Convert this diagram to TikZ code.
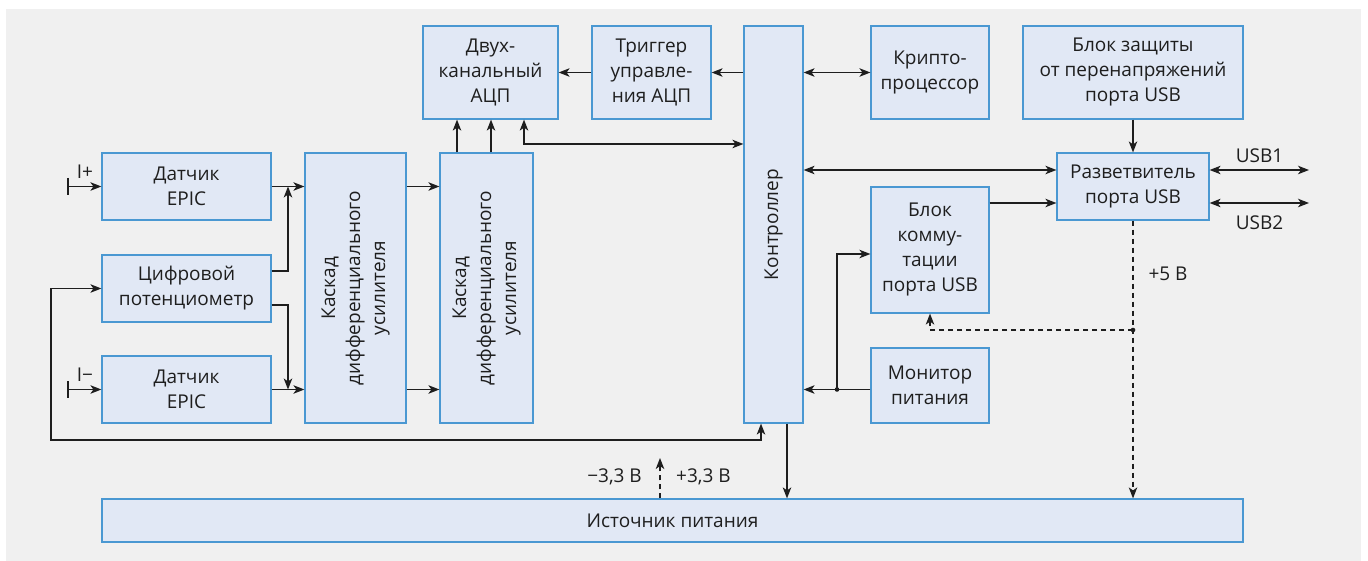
\documentclass[tikz,border=0pt]{standalone}
\usepackage{fontspec}
\setmainfont{Open Sans}
\usetikzlibrary{arrows.meta,calc}
\definecolor{bgc}{HTML}{F0F0F0}
\definecolor{boxfill}{HTML}{E1E8F5}
\definecolor{boxline}{HTML}{4A98D2}
\definecolor{ink}{HTML}{1E1E1E}
\begin{document}
\begin{tikzpicture}[x=1pt,y=-1pt,
  box/.style={draw=boxline, fill=boxfill, line width=1.2pt, inner sep=0pt, align=center, text=ink, font=\fontsize{19}{25}\selectfont},
  txt/.style={align=center, text=ink, inner sep=0pt, font=\fontsize{19}{25}\selectfont},
  conn/.style={draw=ink, line width=1.3pt},
  tip/.tip={Stealth[length=11pt,width=8.5pt,inset=3pt]},
  arr/.style={conn, -tip},
  arrboth/.style={conn, tip-tip},
  darr/.style={conn, dash pattern=on 5pt off 4pt, -tip},
  dotc/.style={fill=ink, draw=none},
]
\fill[white] (0,0) rectangle (1368,561);
\fill[bgc] (6,9) rectangle (1361,561);

% boxes
\node[box, minimum width=169pt, minimum height=67pt] (ds1) at (186.5,186.5) {Датчик\\EPIC};
\node[box, minimum width=169pt, minimum height=67pt] (pot) at (186.5,288.5) {Цифровой\\потенциометр};
\node[box, minimum width=169pt, minimum height=67pt] (ds2) at (186.5,389.5) {Датчик\\EPIC};
\node[box, minimum width=101pt, minimum height=270pt] (k1) at (355.5,288) {};
\node[txt, rotate=90] (k1t) at (k1) {Каскад\\дифференциального\\усилителя};
\node[box, minimum width=93pt, minimum height=270pt] (k2) at (486.5,288) {};
\node[txt, rotate=90] (k2t) at (k2) {Каскад\\дифференциального\\усилителя};
\node[box, minimum width=135pt, minimum height=93pt] (adc) at (490.5,72.5) {Двух-\\канальный\\АЦП};
\node[box, minimum width=119pt, minimum height=93pt] (trg) at (651.5,72.5) {Триггер\\управле-\\ния АЦП};
\node[box, minimum width=59pt, minimum height=397pt] (ctl) at (773.5,224.5) {};
\node[txt, rotate=90] (ctlt) at (ctl) {Контроллер};
\node[box, minimum width=118pt, minimum height=93pt] (cry) at (930,72.5) {Крипто-\\процессор};
\node[box, minimum width=220pt, minimum height=93pt] (prot) at (1133,72.5) {Блок защиты\\от перенапряжений\\порта USB};
\node[box, minimum width=152pt, minimum height=67pt] (hub) at (1133,186.5) {Разветвитель\\порта USB};
\node[box, minimum width=118pt, minimum height=126pt] (sw) at (930,250) {Блок\\комму-\\тации\\порта USB};
\node[box, minimum width=118pt, minimum height=75pt] (mon) at (930,385.5) {Монитор\\питания};
\node[box, minimum width=1141pt, minimum height=43pt] (psu) at (672.5,520.5) {Источник питания};

% inputs
\coordinate (ip) at (68,186.5);
\coordinate (im) at (68,389.5);
\draw[conn] ([yshift=8.5pt]ip) -- ([yshift=-8.5pt]ip);
\draw[conn] ([yshift=8.5pt]im) -- ([yshift=-8.5pt]im);
\draw[arr] (ip) -- (ds1.west);
\draw[arr] (im) -- (ds2.west);
\node[txt] (lip) at (85,172) {I+};
\node[txt] (lim) at (85,375) {I−};

% sensors to first stage
\coordinate (j1) at (288,186.5);
\coordinate (j2) at (288,389.5);
\draw[arr] (ds1.east) -- (ds1.east -| k1.west);
\draw[arr] (ds2.east) -- (ds2.east -| k1.west);
\draw[arr] ([yshift=17.5pt]pot.east) -| (j1);
\draw[arr] ([yshift=-16.5pt]pot.east) -| (j2);

% first to second stage
\draw[arr] (k1.east |- ds1.east) -- (k2.west |- ds1.east);
\draw[arr] (k1.east |- ds2.east) -- (k2.west |- ds2.east);

% second stage to ADC
\draw[arr] ([xshift=-29.5pt]k2.north) -- ([xshift=-29.5pt]k2.north |- adc.south);
\draw[arr] ([xshift=4.5pt]k2.north) -- ([xshift=4.5pt]k2.north |- adc.south);
\coordinate (ca) at ([yshift=80.5pt]ctl.west);
\draw[arrboth] ([xshift=33.5pt]adc.south) |- (ca);

% controller, trigger, ADC
\draw[arr] (ctl.west |- trg.east) -- (trg.east);
\draw[arr] (trg.west) -- (adc.east);
\draw[arrboth] (ctl.east |- cry.west) -- (cry.west);

% USB
\draw[arr] (prot.south) -- (hub.north);
\coordinate (h1) at ([yshift=16.5pt]hub.west);
\coordinate (h2) at ([yshift=-16.5pt]hub.west);
\coordinate (h3) at ([yshift=16.5pt]hub.east);
\coordinate (h4) at ([yshift=-16.5pt]hub.east);
\draw[arrboth] (ctl.east |- h1) -- (h1);
\draw[arr] (sw.east |- h2) -- (h2);
\coordinate (u1) at (1309,170);
\coordinate (u2) at (1309,203);
\draw[arrboth] (h3) -- (u1);
\draw[arrboth] (h4) -- (u2);
\node[txt] (lu1) at (1259.5,156) {USB1};
\node[txt] (lu2) at (1259.5,222.5) {USB2};

% monitor
\coordinate (dm) at (837,389.5);
\coordinate (mw) at ([yshift=-4pt]mon.west);
\coordinate (sww) at ([yshift=-4pt]sw.west);
\draw[arr] (mw) -- (ctl.east |- dm);
\draw[arr] (dm) |- (sww);
\fill[dotc] (dm) circle (2.3pt);

% feedback to potentiometer
\coordinate (fbt) at (51,288.5);
\coordinate (fbb) at (51,440);
\coordinate (cs) at ([xshift=-12.5pt]ctl.south);
\draw[arrboth] (pot.west) -- (fbt) -- (fbb) -| (cs);

% power
\coordinate (cp) at ([xshift=13.5pt]ctl.south);
\draw[arr] (cp) -- (cp |- psu.north);
\coordinate (v33) at (660,458);
\draw[darr] (v33 |- psu.north) -- (v33);
\node[txt, anchor=east] (lm33) at (642,477) {−3,3 В};
\node[txt, anchor=west] (lp33) at (676,477) {+3,3 В};

\coordinate (d5) at (1133,330);
\draw[darr] (hub.south) -- (hub.south |- psu.north);
\draw[darr] (d5) -| (sw.south);
\fill[dotc] (d5) circle (2.3pt);
\node[txt] (l5) at (1168,274) {+5 В};
\end{tikzpicture}
\end{document}
